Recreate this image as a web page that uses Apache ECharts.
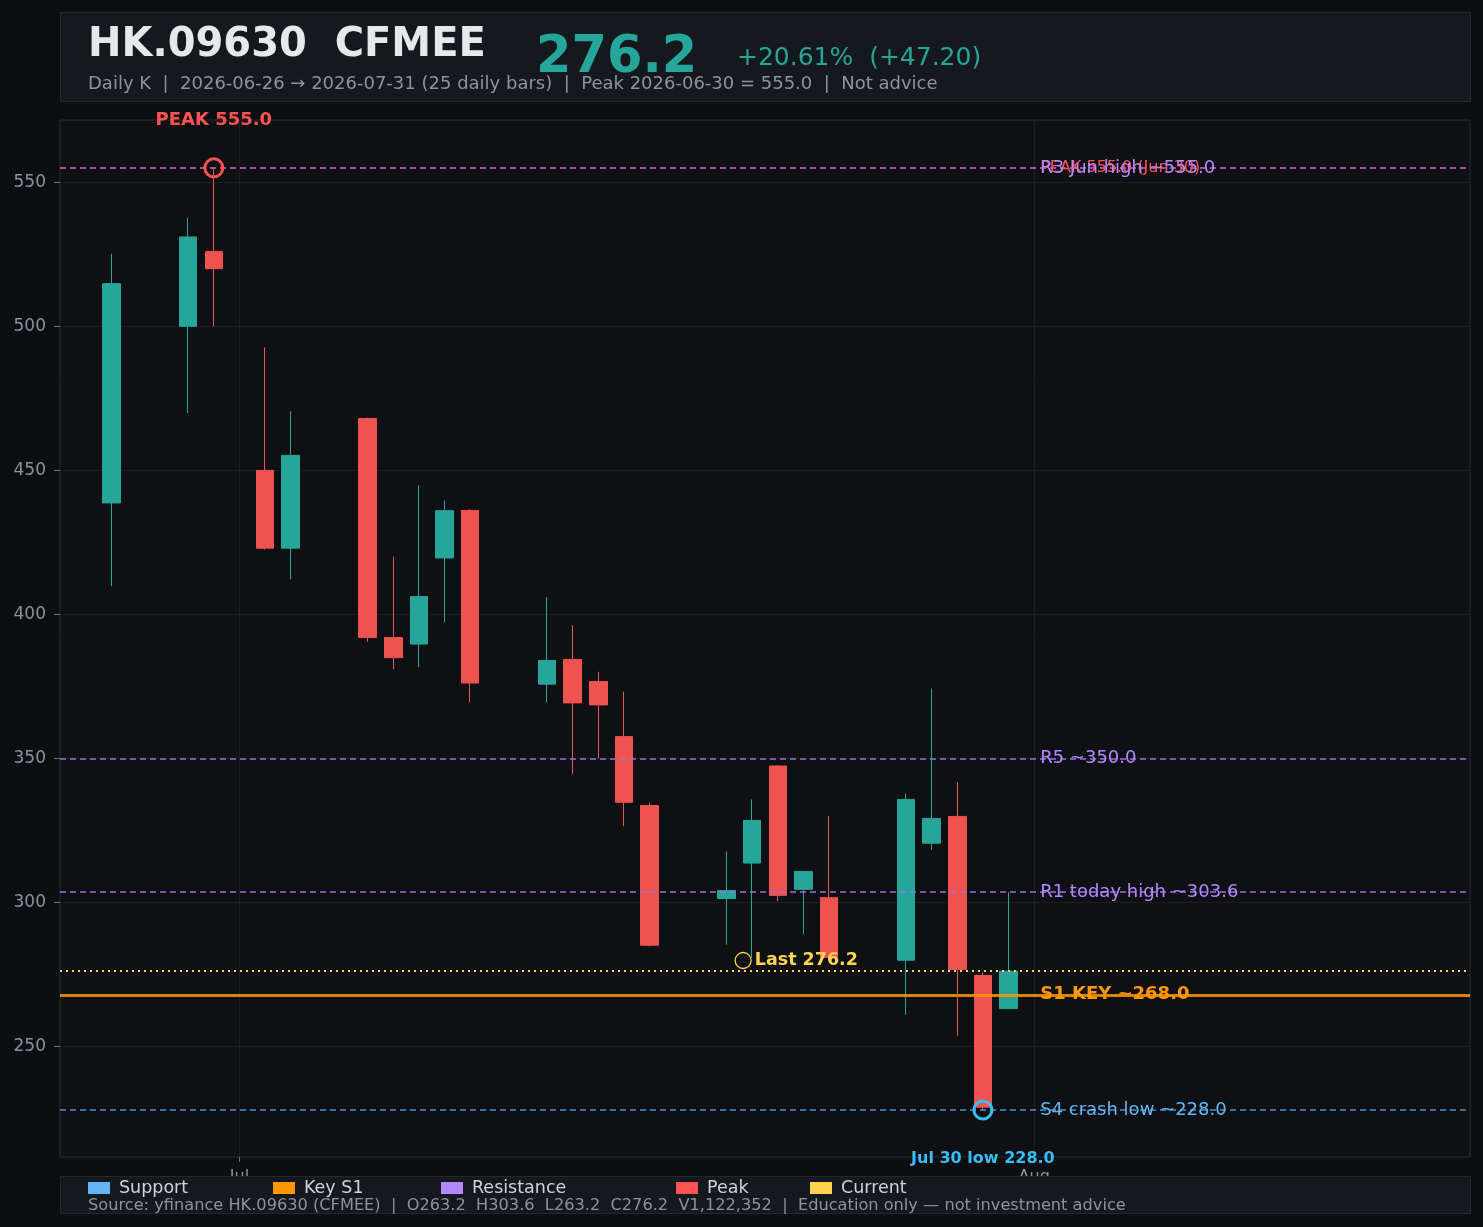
<!DOCTYPE html>
<html>
<head>
<meta charset="utf-8">
<title>HK.09630 CFMEE</title>
<script src="https://cdn.jsdelivr.net/npm/echarts@6/dist/echarts.min.js"></script>
<style>
  html, body { margin: 0; padding: 0; background: #0c0e11; }
  #main { width: 1483px; height: 1227px; }
</style>
</head>
<body>
<div id="main"></div>
<script>
// daily bars, values
var dates = ['2026-06-26','2026-06-29','2026-06-30','2026-07-02','2026-07-03',
             '2026-07-06','2026-07-07','2026-07-08','2026-07-09','2026-07-10',
             '2026-07-13','2026-07-14','2026-07-15','2026-07-16','2026-07-17',
             '2026-07-20','2026-07-21','2026-07-22','2026-07-23','2026-07-24',
             '2026-07-27','2026-07-28','2026-07-29','2026-07-30','2026-07-31'];
var opens  = [438.7, 500.0, 526.0, 450.0, 423.0, 468.0, 392.0, 389.7, 419.6, 436.1,
              375.8, 384.4, 376.7, 357.6, 333.7, 301.4, 313.7, 347.4, 304.6, 301.7,
              280.0, 320.6, 329.9, 274.7, 263.2];
var highs  = [525.2, 537.5, 555.0, 492.7, 470.5, 468.3, 420.1, 444.8, 439.6, 436.5,
              406.0, 396.3, 380.1, 373.2, 334.7, 317.7, 335.8, 347.7, 311.0, 330.0,
              337.8, 374.3, 341.8, 275.8, 303.6];
var lows   = [409.8, 469.9, 500.0, 422.5, 412.2, 390.5, 381.0, 381.7, 397.3, 369.5,
              369.5, 344.6, 350.0, 326.5, 284.8, 285.4, 280.8, 300.5, 289.2, 280.5,
              261.1, 318.4, 253.8, 228.0, 263.2];
var closes = [514.8, 531.0, 520.0, 423.0, 455.2, 392.0, 385.0, 406.2, 436.0, 376.2,
              384.0, 369.3, 368.6, 334.8, 285.2, 304.2, 328.5, 302.5, 310.8, 281.0,
              335.8, 329.2, 276.8, 229.0, 276.2];

// levels
var resistNames  = ['R3 Jun high ~555.0', 'R5 ~350.0', 'R1 today high ~303.6'];
var resistValues = [555.0, 350.0, 303.6];
var supportNames  = ['S4 crash low ~228.0'];
var supportValues = [228.0];
var keyName = 'S1 KEY ~268.0';
var keyValue = 268.0;
var peakDate = '2026-06-30';
var peakValue = 555.0;
var lowDate = '2026-07-30';
var lowValue = 228.0;
var lastValue = 276.2;

var monthNames = ['Jan','Feb','Mar','Apr','May','Jun','Jul','Aug','Sep','Oct','Nov','Dec'];

var C_UP = '#26a69a', C_DOWN = '#ef5350';
var C_SUP = '#64b5f6', C_KEY = '#ff9800', C_RES = '#b388ff', C_PEAK = '#ff5252', C_CUR = '#ffd54f';
var LABEL_X = '2026-08-01';
var FONT = '"DejaVu Sans", sans-serif';

var candles = [];
for (var i = 0; i < dates.length; i++) {
    candles.push([dates[i], opens[i], closes[i], lows[i], highs[i]]);
}

function levelLabel(name, v, color, bold) {
    return {
        coord: [LABEL_X, v], symbolSize: 0,
        label: { show: true, position: 'right', distance: 6, formatter: name,
                 color: color, fontSize: 18, fontFamily: FONT, fontWeight: bold ? 'bold' : 'normal' }
    };
}

var chart = echarts.init(document.getElementById('main'));

var option = {
    backgroundColor: '#0c0e11',
    animation: false,
    textStyle: { fontFamily: FONT },
    grid: { left: 60, right: 13, top: 120, bottom: 70, show: true,
            backgroundColor: '#0e1014', borderColor: '#262a30', borderWidth: 1 },
    xAxis: {
        type: 'time',
        min: '2026-06-24', max: '2026-08-18',
        splitNumber: 2,
        axisLine: { show: false },
        axisTick: { show: true, length: 5, lineStyle: { color: '#6b7280' } },
        axisLabel: { color: '#8b949e', fontSize: 16, margin: 12,
                     showMinLabel: false, showMaxLabel: false,
                     formatter: function (v) {
                         var d = new Date(v);
                         return d.getDate() === 1 ? monthNames[d.getMonth()] : '';
                     } },
        splitLine: { show: true, lineStyle: { color: '#1b1f25', width: 1 } }
    },
    yAxis: {
        type: 'value',
        min: 211.7, max: 571.6, splitNumber: 7,
        axisLine: { show: false },
        axisTick: { show: true, length: 6, lineStyle: { color: '#6b7280' } },
        axisLabel: { color: '#8b949e', fontSize: 17, margin: 14,
                     showMinLabel: false, showMaxLabel: false },
        splitLine: { show: true, lineStyle: { color: '#1b1f25', width: 1 } }
    },
    legend: [
        { data: ['Support'], left: 88 },
        { data: ['Key S1'], left: 273 },
        { data: ['Resistance'], left: 441 },
        { data: ['Peak'], left: 676 },
        { data: ['Current'], left: 810 }
    ].map(function (l) {
        l.top = 1179; l.padding = 0; l.icon = 'rect'; l.itemWidth = 22; l.itemHeight = 12; l.itemGap = 6;
        l.textStyle = { color: '#d0d4da', fontSize: 17.5, fontFamily: FONT, padding: [0, 0, 0, 4] };
        l.selectedMode = false; l.z = 20;
        return l;
    }),
    series: [
        {
            name: 'HK.09630', type: 'candlestick', barWidth: 18, z: 3,
            itemStyle: { color: C_UP, color0: C_DOWN, borderColor: C_UP, borderColor0: C_DOWN, borderWidth: 1 },
            data: candles
        },
        {
            name: 'Resistance', type: 'line', data: [], color: C_RES,
            markLine: {
                symbol: ['none', 'none'], silent: true, label: { show: false },
                lineStyle: { color: '#9a6fe0', type: [6, 4], width: 1.5 },
                data: resistValues.map(function (v) { return { yAxis: v }; })
            },
            markPoint: { z: 7, data: resistValues.map(function (v, k) { return levelLabel(resistNames[k], v, C_RES, false); }) }
        },
        {
            name: 'Peak', type: 'line', data: [], color: C_PEAK,
            markLine: {
                symbol: ['none', 'none'], silent: true, label: { show: false },
                lineStyle: { color: C_PEAK, type: [6, 4], width: 1.5, opacity: 0.4 },
                data: [{ yAxis: peakValue }]
            },
            markPoint: {
                z: 6,
                data: [
                    { coord: [LABEL_X, peakValue], symbolSize: 0,
                      label: { show: true, position: 'right', distance: 6, formatter: 'PEAK 555.0 (Jun 30)',
                               color: '#ff5252', fontSize: 16, fontFamily: FONT } },
                    { coord: [peakDate, peakValue], symbol: 'circle', symbolSize: 18,
                      itemStyle: { color: 'rgba(0,0,0,0)', borderColor: C_PEAK, borderWidth: 3 },
                      label: { show: true, position: 'top', distance: 28, formatter: 'PEAK 555.0',
                               color: C_PEAK, fontSize: 18, fontWeight: 'bold', fontFamily: FONT } }
                ]
            }
        },
        {
            name: 'Current', type: 'line', data: [], color: C_CUR,
            markLine: {
                symbol: ['none', 'none'], silent: true, label: { show: false },
                lineStyle: { color: C_CUR, type: [2, 4], width: 2 },
                data: [{ yAxis: lastValue }]
            },
            markPoint: {
                data: [{ coord: ['2026-07-20 15:30', 279.9], symbol: 'circle', symbolSize: 16,
                         itemStyle: { color: 'rgba(0,0,0,0)', borderColor: C_CUR, borderWidth: 1.3 },
                         label: { show: true, position: 'right', distance: 3, formatter: 'Last 276.2',
                                  color: C_CUR, fontSize: 17.5, fontWeight: 'bold', fontFamily: FONT } }]
            }
        },
        {
            name: 'Key S1', type: 'line', data: [], color: C_KEY,
            markLine: {
                symbol: ['none', 'none'], silent: true, label: { show: false },
                lineStyle: { color: C_KEY, type: 'solid', width: 3, opacity: 0.85 },
                data: [{ yAxis: keyValue }]
            },
            markPoint: { data: [levelLabel(keyName, keyValue, C_KEY, true)] }
        },
        {
            name: 'Support', type: 'line', data: [], color: C_SUP,
            markLine: {
                symbol: ['none', 'none'], silent: true, label: { show: false },
                lineStyle: { color: '#4f8fd0', type: [6, 4], width: 1.5 },
                data: supportValues.map(function (v) { return { yAxis: v }; })
            },
            markPoint: {
                z: 6,
                data: supportValues.map(function (v, k) { return levelLabel(supportNames[k], v, C_SUP, false); })
                    .concat([{ coord: [lowDate, lowValue], symbol: 'circle', symbolSize: 18,
                               itemStyle: { color: 'rgba(0,0,0,0)', borderColor: '#38bdf8', borderWidth: 3 },
                               label: { show: true, position: 'bottom', distance: 30, formatter: 'Jul 30 low 228.0',
                                        color: '#38bdf8', fontSize: 16, fontWeight: 'bold', fontFamily: FONT } }])
            }
        }
    ],
    graphic: [
        { type: 'rect', shape: { x: 60.5, y: 12.5, width: 1410, height: 89 }, z: 10,
          style: { fill: '#15181d', stroke: '#23272e', lineWidth: 1 } },
        { type: 'text', left: 88, top: 26, z: 11,
          style: { text: 'HK.09630  CFMEE', fill: '#e6e8eb', font: 'bold 40px ' + FONT } },
        { type: 'text', left: 536, top: 33, z: 11,
          style: { text: '276.2', fill: C_UP, font: 'bold 51px ' + FONT } },
        { type: 'text', left: 737, top: 46, z: 11,
          style: { text: '+20.61%  (+47.20)', fill: C_UP, font: '25px ' + FONT } },
        { type: 'text', left: 88, top: 75, z: 11,
          style: { text: 'Daily K  |  2026-06-26 \u2192 2026-07-31 (25 daily bars)  |  Peak 2026-06-30 = 555.0  |  Not advice',
                   fill: '#8b949e', font: '18px ' + FONT } },
        { type: 'rect', shape: { x: 60.5, y: 1176.5, width: 1410, height: 37 }, z: 10,
          style: { fill: '#15181d', stroke: '#23272e', lineWidth: 1 } },
        { type: 'text', left: 88, top: 1198, z: 11,
          style: { text: 'Source: yfinance HK.09630 (CFMEE)  |  O263.2  H303.6  L263.2  C276.2  V1,122,352  |  Education only \u2014 not investment advice',
                   fill: '#8b949e', font: '16.2px ' + FONT } }
    ]
};

chart.setOption(option);
</script>
</body>
</html>
